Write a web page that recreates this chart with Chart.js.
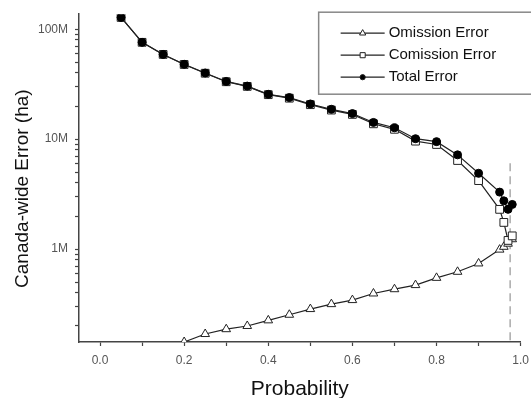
<!DOCTYPE html>
<html>
<head>
<meta charset="utf-8">
<script src="https://cdn.jsdelivr.net/npm/chart.js"></script>
<style>
  html, body { margin: 0; padding: 0; background: #fff; overflow: hidden; }
  #wrap { width: 531px; height: 398px; overflow: hidden; }
</style>
</head>
<body>
<div id="wrap"><canvas id="myChart" width="536" height="398"></canvas></div>
<script>
// probability threshold (x) and Canada-wide error in ha (y)
const probability = [0.05, 0.10, 0.15, 0.20, 0.25, 0.30, 0.35, 0.40, 0.45, 0.50, 0.55,
                     0.60, 0.65, 0.70, 0.75, 0.80, 0.85, 0.90, 0.95, 0.96, 0.97, 0.98];
const omissionError = [null, null, null, 1.43e5, 1.69e5, 1.87e5, 2.00e5, 2.25e5, 2.53e5, 2.85e5, 3.16e5,
                       3.44e5, 3.95e5, 4.32e5, 4.71e5, 5.48e5, 6.22e5, 7.41e5, 9.9e5, 1.05e6, 1.12e6, 1.23e6];
const comissionError = [1.28e8, 7.6e7, 5.9e7, 4.78e7, 3.98e7, 3.33e7, 3.02e7, 2.54e7, 2.36e7, 2.06e7, 1.84e7,
                        1.68e7, 1.38e7, 1.23e7, 9.6e6, 8.95e6, 6.4e6, 4.2e6, 2.3e6, 1.75e6, 1.2e6, 1.32e6];
const totalError = [1.28e8, 7.6e7, 5.9e7, 4.8e7, 4.0e7, 3.35e7, 3.04e7, 2.56e7, 2.39e7, 2.09e7, 1.87e7,
                    1.71e7, 1.42e7, 1.27e7, 1.01e7, 9.5e6, 7.2e6, 4.9e6, 3.3e6, 2.75e6, 2.3e6, 2.55e6];
const seriesNames = ['Omission Error', 'Comission Error', 'Total Error'];

const thresholdProbability = 0.975;
const thresholdSpan = [6.05e6, 1.43e5];

const xTickValues = [0.0, 0.2, 0.4, 0.6, 0.8, 1.0];
const xTickLabels = ['0.0', '0.2', '0.4', '0.6', '0.8', '1.0'];
const yTickValues = [1e6, 1e7, 1e8];
const yTickLabels = ['1M', '10M', '100M'];

const FONT = 'Arial, "Liberation Sans", sans-serif';
const INK = '#222';

function toPoints(ys) {
  return probability.map((p, i) => ({ x: p, y: ys[i] }));
}

function isWholeSignificand(v) {
  const s = v / Math.pow(10, Math.floor(Math.log10(v) + 1e-9));
  return Math.abs(s - Math.round(s)) < 1e-6;
}

function drawMarker(ctx, style, x, y, r, fill) {
  ctx.beginPath();
  if (style === 'triangle') {
    ctx.moveTo(x, y - r);
    ctx.lineTo(x + r * 0.866, y + r * 0.5);
    ctx.lineTo(x - r * 0.866, y + r * 0.5);
    ctx.closePath();
  } else if (style === 'rect') {
    const s = r * Math.SQRT1_2;
    ctx.rect(x - s, y - s, 2 * s, 2 * s);
  } else {
    ctx.arc(x, y, r, 0, Math.PI * 2);
  }
  ctx.fillStyle = fill;
  ctx.fill();
  ctx.stroke();
}

// legend drawn inside the plot, line with marker in the middle
const legendBox = {
  id: 'legendBox',
  afterDatasetsDraw(chart) {
    const ctx = chart.ctx;
    const area = chart.chartArea;
    const x0 = area.right - 202, y0 = area.top - 2;
    ctx.save();
    ctx.fillStyle = '#fff';
    ctx.fillRect(x0, y0, 260, 82);
    ctx.strokeStyle = '#888';
    ctx.lineWidth = 1.5;
    ctx.strokeRect(x0, y0, 260, 82);
    ctx.font = '15px ' + FONT;
    ctx.textBaseline = 'middle';
    chart.data.datasets.filter(ds => ds.inLegend).forEach((ds, i) => {
      const y = y0 + 21 + i * 22;
      ctx.strokeStyle = INK;
      ctx.lineWidth = 1.2;
      ctx.beginPath();
      ctx.moveTo(x0 + 22, y);
      ctx.lineTo(x0 + 66, y);
      ctx.stroke();
      ctx.lineWidth = 1;
      drawMarker(ctx, ds.pointStyle, x0 + 44, y, ds.pointStyle === 'circle' ? 2.6 : 3.6, ds.pointBackgroundColor);
      ctx.fillStyle = '#111';
      ctx.fillText(ds.label, x0 + 70, y);
    });
    ctx.restore();
  }
};

const ctx = document.getElementById('myChart').getContext('2d');
const myChart = new Chart(ctx, {
  type: 'line',
  data: {
    datasets: [
      {
        label: seriesNames[0], inLegend: true, order: 2,
        data: toPoints(omissionError),
        borderColor: INK, borderWidth: 1.2,
        pointStyle: 'triangle', pointRadius: 5, pointBorderWidth: 1,
        pointBackgroundColor: '#fff', pointBorderColor: INK
      },
      {
        label: seriesNames[1], inLegend: true, order: 1,
        data: toPoints(comissionError),
        borderColor: INK, borderWidth: 1.2,
        pointStyle: 'rect', pointRadius: 5.5, pointBorderWidth: 1,
        pointBackgroundColor: '#fff', pointBorderColor: INK
      },
      {
        label: seriesNames[2], inLegend: true, order: 0,
        data: toPoints(totalError),
        borderColor: INK, borderWidth: 1.2,
        pointStyle: 'circle', pointRadius: 4, pointBorderWidth: 1,
        pointBackgroundColor: '#000', pointBorderColor: '#000'
      },
      {
        label: 'threshold', inLegend: false, order: 3,
        data: thresholdSpan.map(v => ({ x: thresholdProbability, y: v })),
        borderColor: '#aaa', borderWidth: 1.5, borderDash: [8, 5],
        pointRadius: 0
      }
    ]
  },
  options: {
    responsive: false,
    animation: false,
    devicePixelRatio: 1,
    layout: { padding: { left: 0, top: 14, right: 12, bottom: 0 } },
    plugins: { legend: { display: false }, tooltip: { enabled: false } },
    scales: {
      x: {
        type: 'linear',
        min: -0.05, max: 1.0,
        afterFit: s => { s.height = 56; },
        border: { display: true, color: '#444', width: 1.5 },
        grid: { drawOnChartArea: false, drawTicks: true, tickLength: 4, tickColor: '#444', tickWidth: 1.2 },
        ticks: {
          stepSize: 0.1, includeBounds: false, autoSkip: false, maxRotation: 0,
          padding: 7, color: '#555', font: { family: FONT, size: 12 },
          callback: v => {
            const k = xTickValues.findIndex(t => Math.abs(t - v) < 1e-9);
            return k >= 0 ? xTickLabels[k] : '';
          }
        },
        title: {
          display: true, text: 'Probability', color: '#111',
          font: { family: FONT, size: 21, lineHeight: 0.8 }, padding: { top: 0, bottom: 0 }
        }
      },
      y: {
        type: 'logarithmic',
        min: 1.43e5, max: 1.37e8,
        afterFit: s => { s.width = 79; },
        border: { display: true, color: '#444', width: 1.5 },
        grid: {
          drawOnChartArea: false, drawTicks: true, tickLength: 4, tickWidth: 1.2,
          tickColor: c => (c.tick && isWholeSignificand(c.tick.value)) ? '#444' : 'rgba(0,0,0,0)'
        },
        ticks: {
          autoSkip: false, padding: 7, color: '#555', font: { family: FONT, size: 12 },
          callback: v => {
            const k = yTickValues.findIndex(t => Math.abs(t - v) / t < 1e-6);
            return k >= 0 ? yTickLabels[k] : '';
          }
        },
        title: {
          // trailing spaces nudge the rotated title down to where the original sits
          display: true, text: 'Canada-wide Error (ha)    ', color: '#111',
          font: { family: FONT, size: 19, lineHeight: 1.2 }, padding: { top: 11, bottom: 0 }
        }
      }
    }
  },
  plugins: [legendBox]
});
</script>
</body>
</html>
